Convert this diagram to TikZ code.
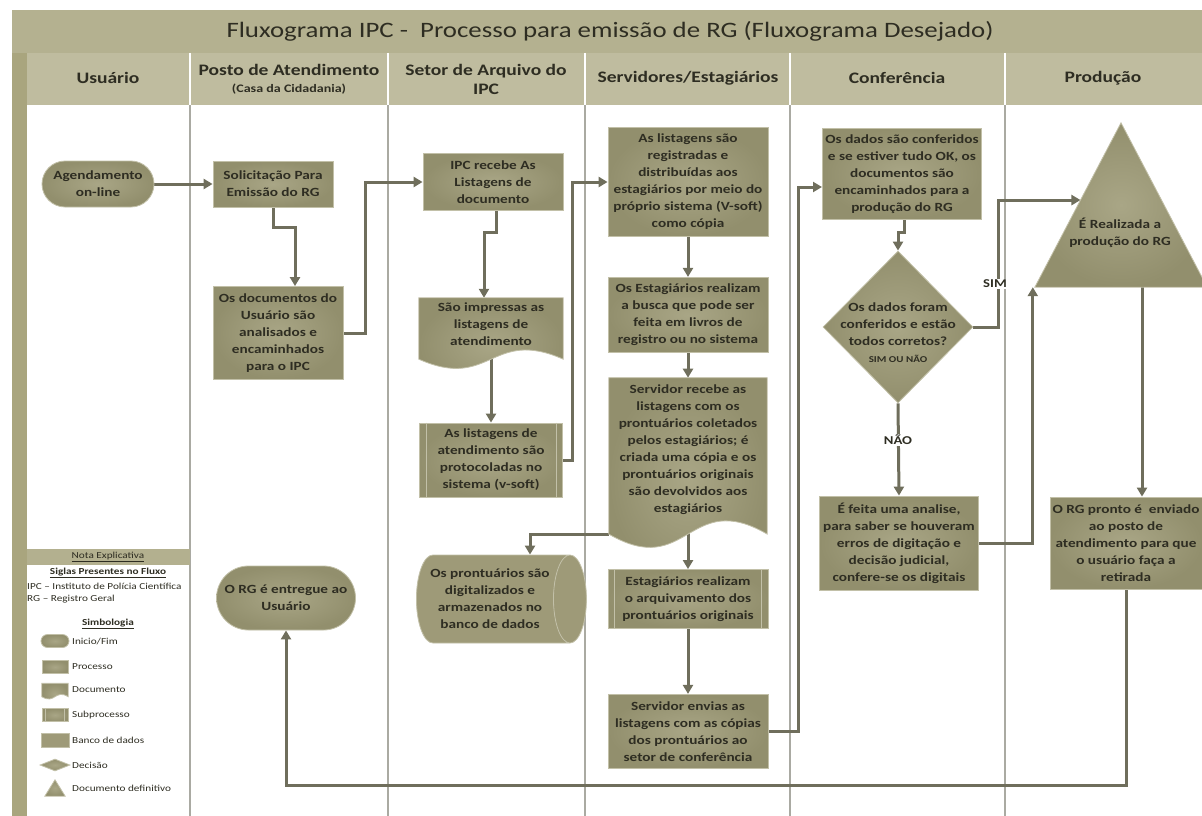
\documentclass[tikz,border=0pt]{standalone}
\usepackage{fontspec}
\setmainfont[FakeStretch=1.22]{Carlito}
\usetikzlibrary{arrows.meta,positioning,calc,shapes.geometric,shapes.misc}

\definecolor{nodec}{HTML}{9E9A78}
\definecolor{nodein}{HTML}{A9A686}
\definecolor{nodeout}{HTML}{928F6D}
\definecolor{nodeedge}{HTML}{C2C0A8}
\definecolor{linkc}{HTML}{6F6E5C}
\definecolor{titlec}{HTML}{B4B190}
\definecolor{headc}{HTML}{BFBC9F}
\definecolor{barc}{HTML}{A9A57E}
\definecolor{lanec}{HTML}{AAAAA2}
\definecolor{notec}{HTML}{B3B08F}
\definecolor{txtc}{HTML}{2E2D22}

\pgfdeclarelayer{lanes}
\pgfdeclarelayer{links}
\pgfdeclarelayer{shapes}
\pgfsetlayers{lanes,links,shapes,main}

% document shape: node, drop of the corners, wave height
\newcommand{\docpath}[3]{%
  \begin{pgfonlayer}{shapes}
    \path[inner color=nodein,outer color=nodeout,draw=nodeedge,line width=0.8pt]
      (#1.north west) -- (#1.north east)
      -- ($(#1.south east)+(0,#2)$)
      .. controls ($(#1.south)+(0,#2-#3)$) and ($(#1.south)+(0,#2+#3)$)
      .. ($(#1.south west)+(0,#2)$) -- cycle;
  \end{pgfonlayer}}
% subprocess rules: node, inset
\newcommand{\subrules}[2]{%
  \draw[nodeedge,line width=0.8pt] ([xshift=#2]#1.north west) -- ([xshift=#2]#1.south west)
    ([xshift=-#2]#1.north east) -- ([xshift=-#2]#1.south east);}
% final document triangle
\newcommand{\tripath}[1]{%
  \begin{pgfonlayer}{shapes}
    \begin{scope}
      \clip (0,0) rectangle (1202,816);
      \path[inner color=nodein,outer color=nodeout,draw=nodeedge,line width=0.8pt]
        (#1.north) -- (#1.south east) -- (#1.south west) -- cycle;
    \end{scope}
  \end{pgfonlayer}}

\begin{document}
\begin{tikzpicture}[x=1pt,y=-1pt,
    every node/.style={text=txtc},
    nodetxt/.style={font=\bfseries\fontsize{12.5}{17}\selectfont,align=center,inner sep=3pt},
    procbox/.style={nodetxt,rectangle,inner color=nodein,outer color=nodeout,draw=nodeedge,line width=0.8pt},
    termbox/.style={nodetxt,rounded rectangle,inner color=nodein,outer color=nodeout,draw=nodeedge,line width=0.8pt},
    subbox/.style={procbox},
    docbox/.style={nodetxt,rectangle},
    dbbox/.style={nodetxt,cylinder,shape aspect=0.5,cylinder uses custom fill,
      cylinder body fill=nodec,cylinder end fill=nodec,draw=nodeedge,line width=0.8pt},
    decbox/.style={diamond,inner color=nodein,outer color=nodeout,draw=nodeedge,line width=0.8pt,inner sep=0pt},
    trifit/.style={rectangle,inner sep=0pt},
    flow/.style={draw=linkc,line width=3pt,-{Triangle[length=9pt,width=10pt]}},
    flowlabel/.style={fill=white,font=\bfseries\fontsize{12}{14}\selectfont,inner sep=1pt},
    lanehead/.style={font=\bfseries\fontsize{16}{19}\selectfont,align=center},
    legtext/.style={font=\fontsize{9.2}{11}\selectfont,inner sep=1pt},
    legbold/.style={legtext,font=\bfseries\fontsize{9.2}{11}\selectfont}]

  \useasboundingbox (0,0) rectangle (1202,816);

  \begin{pgfonlayer}{lanes}
    \fill[titlec] (12,10) rectangle (1202,53);
    \fill[barc] (12,53) rectangle (27,816);
    \fill[headc] (27,53) rectangle (1202,105);
    \foreach \x in {190,388,585,790,1005} {
      \draw[white,line width=1.5pt] (\x,53) -- (\x,105);
      \draw[lanec,line width=1.3pt] (\x,105) -- (\x,816);
    }
    \fill[notec] (27,549) rectangle (190,565);
  \end{pgfonlayer}

  \node[font=\fontsize{22}{26}\selectfont] (title) at (610,31)
    {Fluxograma IPC -~ Processo para emissão de RG (Fluxograma Desejado)};
  \node[lanehead] (hUsu) at (108,78) {Usuário};
  \node[lanehead] (hPosto) at (289,79)
    {Posto de Atendimento\\[-2pt]{\fontsize{11.5}{13}\selectfont(Casa da Cidadania)}};
  \node[lanehead] (hArq) at (486,79) {Setor de Arquivo do\\IPC};
  \node[lanehead] (hServ) at (688,78) {Servidores/Estagiários};
  \node[lanehead] (hConf) at (897,78) {Conferência};
  \node[lanehead] (hProd) at (1103,78) {Produção};

  % Usuario / Posto
  \node[termbox,minimum width=118pt,minimum height=46pt] (agenda) at (98,184) {Agendamento\\on-line};
  \node[procbox,minimum width=120pt,minimum height=46pt] (solic) at (273,184)
    {Solicitação Para\\Emissão do RG};
  \node[procbox,minimum width=130pt,minimum height=93pt] (docs) at (278,333)
    {Os documentos do\\Usuário são\\analisados e\\encaminhados\\para o IPC};
  \node[termbox,minimum width=145pt,minimum height=64pt] (entregue) at (286,598)
    {O RG é entregue ao\\Usuário};

  % Setor de Arquivo
  \node[procbox,minimum width=140pt,minimum height=57pt] (ipc) at (493,182)
    {IPC recebe As\\Listagens de\\documento};
  \node[docbox,minimum width=144pt,minimum height=52pt] (impr) at (491,324)
    {São impressas as\\listagens de\\atendimento};
  \docpath{impr}{9}{32}
  \node[subbox,minimum width=143pt,minimum height=74pt] (prot) at (491,460)
    {As listagens de\\atendimento são\\protocoladas no\\sistema (v-soft)};
  \subrules{prot}{7pt}
  \node[dbbox,minimum width=88pt,minimum height=170pt] (db) at (490,599)
    {Os prontuários são\\digitalizados e\\armazenados no\\banco de dados};

  % Servidores/Estagiarios
  \node[procbox,minimum width=160pt,minimum height=109pt] (reg) at (688,182)
    {As listagens são\\registradas e\\distribuídas aos\\estagiários por meio do\\próprio sistema (V-soft)\\como cópia};
  \node[procbox,below=40pt of reg,minimum width=160pt,minimum height=75pt] (busca)
    {Os Estagiários realizam\\a busca que pode ser\\feita em livros de\\registro ou no sistema};
  \node[docbox,below=25pt of busca,minimum width=158pt,minimum height=144pt] (serv)
    {Servidor recebe as\\listagens com os\\prontuários coletados\\pelos estagiários; é\\criada uma cópia e os\\prontuários originais\\são devolvidos aos\\estagiários};
  \docpath{serv}{12}{46}
  \node[subbox,below=47pt of serv,minimum width=160pt,minimum height=59pt] (arq)
    {Estagiários realizam\\o arquivamento dos\\prontuários originais};
  \subrules{arq}{7pt}
  \node[procbox,below=65pt of arq,minimum width=160pt,minimum height=74pt] (envia)
    {Servidor envias as\\listagens com as cópias\\dos prontuários ao\\setor de conferência};

  % Conferencia
  \node[procbox,minimum width=159pt,minimum height=91pt] (conf) at (902,174)
    {Os dados são conferidos\\e se estiver tudo OK, os\\documentos são\\encaminhados para a\\produção do RG};
  \node[decbox,minimum width=150pt,minimum height=152pt] (dec) at (898,327) {};
  \node[nodetxt] (dectext) at ([yshift=-6pt]dec.center)
    {Os dados foram\\conferidos e estão\\todos corretos?\\{\fontsize{9}{11}\selectfont SIM OU NÃO}};
  \node[procbox,minimum width=159pt,minimum height=94pt] (analise) at (899,543)
    {É feita uma analise,\\para saber se houveram\\erros de digitação e\\decisão judicial,\\confere-se os digitais};

  % Producao
  \node[trifit,minimum width=172pt,minimum height=164pt] (tri) at (1121,205) {};
  \tripath{tri}
  \node[nodetxt] (tritext) at (1120,233) {É Realizada a\\produção do RG};
  \node[procbox,minimum width=152pt,minimum height=92pt,inner sep=2pt] (pronto) at (1126,543)
    {O RG pronto é~~enviado\\ao posto de\\atendimento para que\\o usuário faça a\\retirada};

  % legenda
  \node[legtext] (nota) at (108,557) {\underline{Nota Explicativa}};
  \node[legbold] (siglas) at (108,573) {\underline{Siglas Presentes no Fluxo}};
  \node[legtext,anchor=west] (sigIpc) at (26,586) {IPC – Instituto de Polícia Científica};
  \node[legtext,anchor=west] (sigRg) at (26,599) {RG – Registro Geral};
  \node[legbold] (simb) at (108,624) {\underline{Simbologia}};
  \node[termbox,minimum width=28pt,minimum height=13pt,inner sep=0pt] (icoTerm) at (55,641) {};
  \node[procbox,minimum width=26pt,minimum height=13pt,inner sep=0pt] (icoProc) at (55,667) {};
  \node[docbox,minimum width=26pt,minimum height=11pt,inner sep=0pt] (icoDoc) at (55,689) {};
  \docpath{icoDoc}{2}{8}
  \node[subbox,minimum width=26pt,minimum height=13pt,inner sep=0pt] (icoSub) at (55,715) {};
  \subrules{icoSub}{4pt}
  \node[dbbox,minimum width=14pt,minimum height=28pt,inner sep=0pt] (icoDb) at (55,740) {};
  \node[decbox,minimum width=30pt,minimum height=12pt] (icoDec) at (55,765) {};
  \node[trifit,minimum width=20pt,minimum height=16pt] (icoTri) at (55,788) {};
  \tripath{icoTri}
  \foreach \yy/\txt [count=\i] in {641/{Inicio/Fim},667/Processo,690/Documento,715/Subprocesso,
      740/Banco de dados,765/Decisão,788/Documento definitivo}
    \node[legtext,anchor=west] (leg\i) at (71,\yy) {\txt};

  \path ($(tri.north)!0.47!(tri.south west)$) coordinate (simend)
    ($(pronto.north)+(16,0)$) coordinate (prodtop);

  \begin{pgfonlayer}{links}
    \draw[flow] (agenda.east) -- (agenda.east -| solic.west);
    \draw[flow] (solic.south) -- ++(0,20) -| ([xshift=17pt]docs.north);
    \draw[flow] (docs.east) -- ++(22,0) |- (ipc.west);
    \draw[flow] ([xshift=3pt]ipc.south) -- ++(0,22) -| ([xshift=-7pt]impr.north);
    \draw[flow] (impr.south) -- (prot.north);
    \draw[flow] (prot.east) -- ++(10,0) |- (reg.west);
    \draw[flow] (reg.south) -- (busca.north);
    \draw[flow] (busca.south) -- (serv.north);
    \draw[flow] ([yshift=-12pt]serv.south west) -| ([xshift=40pt]db.north);
    \draw[flow] (serv.south) -- (arq.north);
    \draw[flow] (arq.south) -- (envia.north);
    \draw[flow] (envia.east) -- ++(30,0) |- ([yshift=-13pt]conf.west);
    \draw[flow] ([xshift=2pt]conf.south) -- ++(0,13) -| (dec.north);
    \draw[flow] (dec.east) -- ++(25,0) |- (simend);
    \draw[flow] (dec.south) -- (analise.north);
    \draw[flow] (analise.east) -| ([xshift=-2pt]tri.south west);
    \draw[flow] (prodtop |- tri.south) -- (prodtop);
    \draw[flow] (pronto.south) -- ++(0,196) -| (entregue.south);
  \end{pgfonlayer}
  \node[flowlabel] (sim) at (995,284) {SIM};
  \node[flowlabel] (nao) at (898,440) {NÃO};
\end{tikzpicture}
\end{document}
